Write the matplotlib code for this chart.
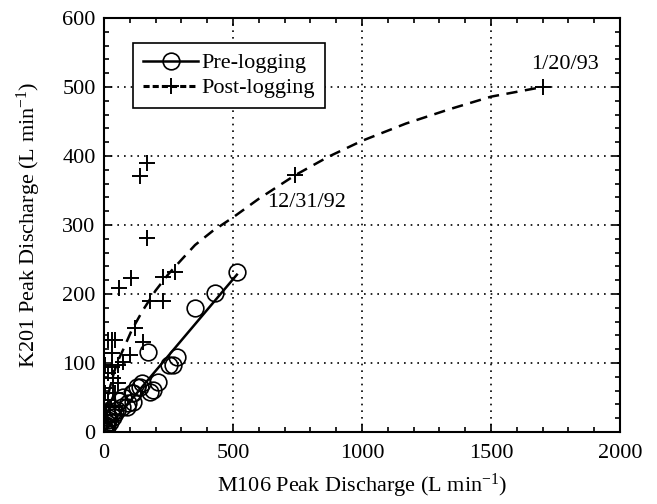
import matplotlib
matplotlib.use("Agg")
import matplotlib.pyplot as plt
from matplotlib.ticker import MultipleLocator

plt.rcParams['font.family'] = ['Liberation Serif', 'DejaVu Serif']
plt.rcParams['mathtext.fontset'] = 'custom'
plt.rcParams['mathtext.rm'] = 'Liberation Serif'
plt.rcParams['mathtext.it'] = 'Liberation Serif:italic'

# Pre-logging peaks (M106, K201)
pre_x = [515, 430, 353, 171, 267, 283, 252, 209, 190, 178, 147, 140, 128, 112, 108,
         112, 93, 89, 74, 70, 50, 43, 35, 23, 12, 12, 0, 5, 3, 8, 20, 30, 60, 15]
pre_y = [232, 201, 180, 116, 97, 109, 97, 72, 61, 58, 71, 65, 65, 57, 56,
         44, 42, 36, 51, 36, 32, 27, 22, 15, 13, 7, 3, 5, 1, 10, 20, 28, 45, 18]
# Pre-logging linear fit
pre_fit_x = [0, 515]
pre_fit_y = [0, 228]

# Post-logging peaks
post_x = [1700, 740, 167, 140, 167, 105, 58, 229, 275, 178, 229, 120, 151, 31, 31,
          101, 4, 54, 35, 54, 35, 4, 0, 23, 15, 43, 74, 31, 15, 0, 43, 15, 43, 5, 10]
post_y = [500, 372, 390, 371, 281, 223, 209, 225, 232, 190, 190, 151, 130, 133, 114,
          112, 97, 97, 78, 71, 57, 57, 39, 36, 133, 133, 101, 94, 85, 64, 57, 46, 36, 25, 15]
# Post-logging fitted curve
post_fit_x = [0, 5, 15, 30, 50, 75, 108, 150, 200, 250, 306, 353, 420, 500, 600,
              740, 870, 1000, 1170, 1341, 1500, 1700]
post_fit_y = [0, 28, 52, 75, 100, 120, 148, 176, 205, 229, 252, 271, 291, 311, 338,
              372, 399, 422, 447, 468, 486, 500]

fig = plt.figure(figsize=(6.57, 5.04), dpi=100)
ax = fig.add_axes([104/657, 72/504, 516/657, 414/504])

ax.plot(pre_fit_x, pre_fit_y, color='black', lw=1.8, zorder=3)
ax.plot(post_fit_x, post_fit_y, color='black', lw=1.8, ls=(0, (4.5, 3)), zorder=3)
ax.plot(pre_x, pre_y, ls='none', marker='o', ms=12, mfc='none', mec='black', mew=1.2, zorder=4)
ax.plot(post_x, post_y, ls='none', marker='+', ms=11, mec='black', mew=1.4, zorder=4)

# legend handles
h1, = ax.plot([], [], color='black', lw=1.8, marker='o', ms=12, mfc='none', mew=1.2)
h2, = ax.plot([], [], color='black', lw=2.2, ls=(0, (2, 1)), marker='+', ms=11, mew=1.4)
leg = ax.legend([h1, h2], ['Pre-logging', 'Post-logging'], loc='upper left',
                bbox_to_anchor=(0.056, 0.94), fontsize=16, frameon=True, fancybox=False,
                edgecolor='black', framealpha=1, handlelength=2.5, handletextpad=0.12,
                borderpad=0.45, labelspacing=0.2, borderaxespad=0)
leg.get_frame().set_linewidth(1.2)

ax.text(787, 332, '12/31/92', fontsize=16, ha='center', va='center')
ax.text(1787, 532, '1/20/93', fontsize=16, ha='center', va='center')

ax.set_xlim(0, 2000)
ax.set_ylim(0, 600)
ax.xaxis.set_major_locator(MultipleLocator(500))
ax.xaxis.set_minor_locator(MultipleLocator(100))
ax.yaxis.set_major_locator(MultipleLocator(100))
ax.yaxis.set_minor_locator(MultipleLocator(20))
ax.tick_params(which='both', direction='in', top=True, right=True, labelsize=16, width=1.2)
ax.tick_params(which='major', length=6)
ax.tick_params(axis='x', which='major', pad=9)
ax.tick_params(axis='y', which='major', pad=6)
ax.tick_params(which='minor', length=3.5)
ax.grid(True, which='major', color='black', ls=(0, (1, 3)), lw=1.2)
for s in ax.spines.values():
    s.set_linewidth(1.5)

ax.set_xlabel('M106 Peak Discharge (L min$^{-1}$)', fontsize=16, labelpad=6)
ax.set_ylabel('K201 Peak Discharge (L min$^{-1}$)', fontsize=16, labelpad=14)

fig.savefig('out.png', dpi=100)
